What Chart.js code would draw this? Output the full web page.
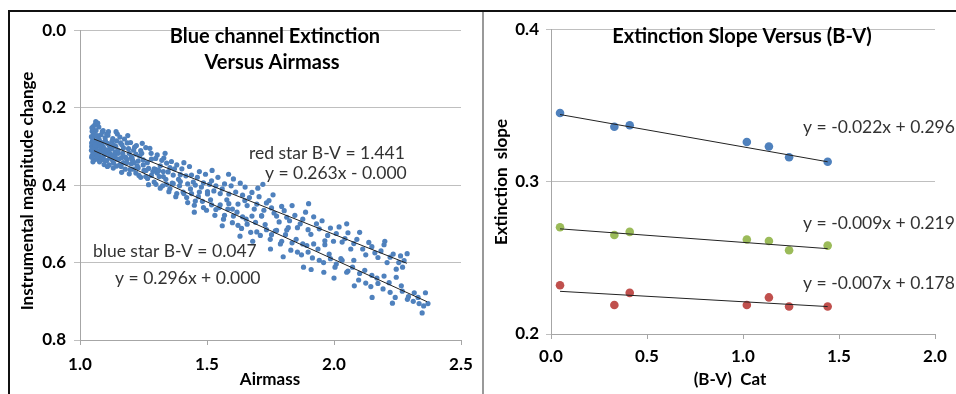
<!DOCTYPE html>
<html>
<head>
<meta charset="utf-8">
<script src="https://cdn.jsdelivr.net/npm/chart.js@4.4.1/dist/chart.umd.min.js"></script>
<style>
  body { margin: 0; width: 956px; height: 394px; background: #fff; position: relative; overflow: hidden; }
  .rule { position: absolute; }
  .wrap { position: absolute; top: 12px; height: 382px; }
</style>
</head>
<body>
<div class="rule" style="left:8px;top:10px;width:948px;height:2px;background:#111"></div>
<div class="rule" style="left:8px;top:10px;width:2px;height:384px;background:#111"></div>
<div class="rule" style="left:482px;top:12px;width:2px;height:382px;background:#999"></div>
<div class="wrap" style="left:10px;width:472px"><canvas id="airmassChart" width="472" height="382"></canvas></div>
<div class="wrap" style="left:485px;width:471px"><canvas id="slopeChart" width="471" height="382"></canvas></div>
<script>
// Left chart: magnitude change vs airmass, [airmass, magnitude]
const redStar = [
  [1.046,0.291],[1.048,0.261],[1.050,0.284],[1.052,0.249],[1.054,0.301],[1.057,0.274],[1.060,0.297],[1.063,0.259],
  [1.066,0.285],[1.069,0.311],[1.072,0.273],[1.075,0.282],[1.079,0.299],[1.083,0.270],[1.087,0.293],[1.091,0.259],
  [1.095,0.311],[1.100,0.286],[1.105,0.309],[1.110,0.271],[1.115,0.297],[1.120,0.324],[1.126,0.287],[1.132,0.297],
  [1.138,0.314],[1.144,0.286],[1.150,0.310],[1.157,0.276],[1.164,0.329],[1.171,0.304],[1.178,0.328],[1.186,0.291],
  [1.194,0.318],[1.202,0.345],[1.211,0.310],[1.220,0.320],[1.229,0.338],[1.239,0.311],[1.249,0.335],[1.259,0.303],
  [1.270,0.357],[1.281,0.333],[1.292,0.358],[1.304,0.322],[1.316,0.350],[1.328,0.378],[1.341,0.343],[1.354,0.355],
  [1.367,0.374],[1.381,0.348],[1.395,0.373],[1.409,0.342],[1.424,0.397],[1.439,0.374],[1.454,0.400],[1.470,0.365],
  [1.486,0.394],[1.502,0.423],[1.518,0.389],[1.535,0.402],[1.552,0.422],[1.569,0.397],[1.586,0.423],[1.604,0.384],
  [1.622,0.449],[1.640,0.426],[1.658,0.453],[1.677,0.419],[1.696,0.449],[1.715,0.479],[1.734,0.446],[1.754,0.459],
  [1.774,0.480],[1.794,0.455],[1.814,0.483],[1.835,0.453],[1.856,0.510],[1.877,0.488],[1.898,0.515],[1.920,0.482],
  [1.942,0.513],[1.964,0.544],[1.986,0.511],[2.009,0.525],[2.032,0.547],[2.055,0.523],[2.078,0.551],[2.101,0.522],
  [2.125,0.580],[2.149,0.559],[2.173,0.587],[2.197,0.554],[2.221,0.586],[2.245,0.617],[2.262,0.583],[2.276,0.595],
  [2.288,0.577],
  [1.045,0.275],[1.047,0.252],[1.053,0.268],[1.059,0.244],[1.065,0.272],[1.074,0.250],[1.081,0.288],[1.088,0.262],
  [1.099,0.278],[1.108,0.292],[1.112,0.262],[1.129,0.280],[1.147,0.268],[1.160,0.291],[1.175,0.281],[1.199,0.290],
  [1.215,0.302],[1.245,0.292],[1.280,0.318],
  [1.105,0.268],[1.125,0.305],[1.142,0.262],[1.165,0.296],[1.188,0.272],[1.205,0.330],[1.222,0.298],[1.243,0.318],
  [1.265,0.342],[1.275,0.305],[1.298,0.331],[1.310,0.362],[1.322,0.336],[1.335,0.318],[1.347,0.366],[1.360,0.339],
  [1.372,0.358],[1.388,0.385],[1.401,0.358],[1.417,0.376],[1.431,0.352],[1.446,0.392],[1.462,0.380],[1.478,0.405],
  [1.494,0.372],[1.510,0.398],[1.527,0.415],[1.543,0.380],[1.560,0.410],[1.578,0.438],[1.595,0.402],[1.613,0.418],
  [1.631,0.395],[1.649,0.440],[1.667,0.432],[1.686,0.462],[1.705,0.430],[1.724,0.465],[1.744,0.440],[1.764,0.472],
  [1.784,0.495],[1.804,0.466],[1.825,0.492],[1.846,0.478],[1.867,0.500],[1.888,0.470],[1.909,0.527],[1.931,0.500],
  [1.953,0.492],[1.975,0.530],[1.998,0.545],[2.020,0.508],[2.043,0.538],[2.066,0.565],[2.090,0.540],[2.113,0.565],
  [2.137,0.548],[2.161,0.575],[2.185,0.570],[2.209,0.600],[2.233,0.578],[2.255,0.600],[2.270,0.612],
  [1.520,0.362],[1.585,0.372],[1.650,0.405],[1.700,0.408],[1.760,0.425],[1.900,0.448],[2.050,0.500],[1.062,0.236],
  [1.070,0.240],[1.600,0.462],[1.820,0.510],[2.200,0.545],[1.720,0.398]
];
const blueStar = [
  [1.046,0.300],[1.048,0.323],[1.050,0.288],[1.052,0.316],[1.054,0.335],[1.057,0.308],[1.060,0.323],[1.063,0.297],
  [1.066,0.333],[1.069,0.288],[1.072,0.318],[1.075,0.326],[1.079,0.310],[1.083,0.333],[1.087,0.299],[1.091,0.328],
  [1.095,0.347],[1.100,0.321],[1.105,0.337],[1.110,0.311],[1.115,0.348],[1.120,0.303],[1.126,0.334],[1.132,0.343],
  [1.138,0.328],[1.144,0.351],[1.150,0.318],[1.157,0.347],[1.164,0.367],[1.171,0.342],[1.178,0.359],[1.186,0.334],
  [1.194,0.371],[1.202,0.328],[1.211,0.359],[1.220,0.369],[1.229,0.355],[1.239,0.380],[1.249,0.348],[1.259,0.378],
  [1.270,0.399],[1.281,0.375],[1.292,0.392],[1.304,0.369],[1.316,0.408],[1.328,0.365],[1.341,0.398],[1.354,0.409],
  [1.367,0.396],[1.381,0.422],[1.395,0.391],[1.409,0.422],[1.424,0.445],[1.439,0.422],[1.454,0.441],[1.470,0.418],
  [1.486,0.458],[1.502,0.417],[1.518,0.451],[1.535,0.463],[1.552,0.451],[1.569,0.478],[1.586,0.448],[1.604,0.480],
  [1.622,0.504],[1.640,0.482],[1.658,0.501],[1.677,0.480],[1.696,0.521],[1.715,0.480],[1.734,0.515],[1.754,0.528],
  [1.774,0.517],[1.794,0.545],[1.814,0.516],[1.835,0.549],[1.856,0.573],[1.877,0.552],[1.898,0.573],[1.920,0.552],
  [1.942,0.594],[1.964,0.554],[1.986,0.590],[2.009,0.604],[2.032,0.594],[2.055,0.622],[2.078,0.594],[2.101,0.628],
  [2.125,0.653],[2.149,0.633],[2.173,0.654],[2.197,0.635],[2.221,0.677],[2.245,0.638],[2.269,0.674],[2.293,0.688],
  [2.316,0.678],[2.335,0.706],[2.347,0.730],[2.360,0.678],[2.370,0.706],
  [1.045,0.310],[1.046,0.328],[1.049,0.298],[1.051,0.340],[1.056,0.318],[1.062,0.305],[1.068,0.325],[1.071,0.296],
  [1.077,0.340],[1.084,0.314],[1.092,0.302],[1.096,0.336],[1.103,0.318],[1.117,0.330],[1.123,0.305],[1.135,0.322],
  [1.141,0.300],[1.153,0.333],[1.168,0.318],[1.183,0.343],[1.191,0.306],[1.207,0.336],[1.225,0.350],[1.235,0.325],
  [1.260,0.362],[1.300,0.360],[1.330,0.330],
  [1.108,0.352],[1.118,0.318],[1.131,0.356],[1.146,0.333],[1.162,0.352],[1.180,0.329],[1.197,0.360],[1.213,0.342],
  [1.232,0.375],[1.252,0.362],[1.266,0.383],[1.287,0.365],[1.299,0.398],[1.312,0.378],[1.325,0.402],[1.338,0.385],
  [1.350,0.417],[1.363,0.395],[1.377,0.430],[1.392,0.402],[1.406,0.418],[1.420,0.432],[1.435,0.410],[1.450,0.452],
  [1.466,0.430],[1.482,0.442],[1.498,0.465],[1.514,0.438],[1.531,0.478],[1.548,0.458],[1.565,0.488],[1.582,0.462],
  [1.600,0.497],[1.618,0.470],[1.636,0.512],[1.654,0.488],[1.672,0.522],[1.691,0.496],[1.710,0.530],[1.729,0.502],
  [1.749,0.540],[1.769,0.518],[1.789,0.552],[1.809,0.528],[1.830,0.568],[1.851,0.540],[1.872,0.580],[1.893,0.556],
  [1.915,0.588],[1.937,0.565],[1.959,0.600],[1.981,0.578],[2.004,0.612],[2.027,0.590],[2.050,0.625],[2.073,0.612],
  [2.097,0.645],[2.121,0.620],[2.145,0.662],[2.169,0.640],[2.193,0.668],[2.217,0.652],[2.241,0.690],[2.265,0.660],
  [2.289,0.695],[2.312,0.700],[2.331,0.690],[2.353,0.712],
  [1.560,0.505],[1.680,0.545],[1.750,0.565],[1.880,0.612],[1.910,0.618],[2.000,0.640],[2.150,0.690],[1.450,0.470],
  [1.630,0.532],[2.080,0.660],[2.230,0.705],[1.800,0.585],[1.960,0.625]
];
// trend lines, end points
const redFitX = [1.055, 2.287];
const redFitY = [0.281, 0.602];
const blueFitX = [1.055, 2.366];
const blueFitY = [0.311, 0.701];

// Right chart: extinction slope vs catalogue B-V
const bvCat = [0.047, 0.33, 0.41, 1.02, 1.135, 1.24, 1.441];
const blueSlope = [0.345, 0.336, 0.337, 0.326, 0.323, 0.316, 0.313];
const greenSlope = [0.270, 0.265, 0.267, 0.262, 0.261, 0.255, 0.258];
const redSlope = [0.232, 0.219, 0.227, 0.219, 0.224, 0.218, 0.218];
const slopeFitX = [0.047, 1.441];
const blueSlopeFit = [0.344, 0.313];
const greenSlopeFit = [0.269, 0.256];
const redSlopeFit = [0.228, 0.218];

const FONT = "Lato, 'Liberation Sans', sans-serif";
const dotBlue = "#4F81BD", dotGreen = "#9BBB59", dotRed = "#C0504D";
const gridGrey = "#bfbfbf", axisGrey = "#a6a6a6";
const noteFont = "17.5px " + FONT, noteColor = "#333";

function pts(pairs) { return pairs.map(p => ({ x: p[0], y: p[1] })); }
function zip(xs, ys) { return xs.map((x, i) => ({ x: x, y: ys[i] })); }
function fitLine(xs, ys) {
  return { data: zip(xs, ys), showLine: true, pointRadius: 0, borderColor: "#222", borderWidth: 1, order: 0 };
}

// text drawn on the canvas: titles, axis titles, equations
const notes = {
  id: "notes",
  afterDatasetsDraw(chart, args, opts) {
    const ctx = chart.ctx;
    (opts.items || []).forEach(t => {
      ctx.save();
      ctx.font = t.font;
      ctx.fillStyle = t.color || "#000";
      ctx.textAlign = t.align || "center";
      ctx.textBaseline = "middle";
      let x = t.x, y = t.y;
      if (t.data) {
        x = chart.scales.x.getPixelForValue(t.x);
        y = chart.scales.y.getPixelForValue(t.y);
      }
      ctx.translate(x, y);
      if (t.rotate) ctx.rotate(-Math.PI / 2);
      ctx.fillText(t.text, 0, 0);
      ctx.restore();
    });
  }
};

function tickFont() { return { family: FONT, size: 17, weight: "bold" }; }

new Chart(document.getElementById("airmassChart"), {
  type: "scatter",
  plugins: [notes],
  data: {
    datasets: [
      fitLine(redFitX, redFitY),
      fitLine(blueFitX, blueFitY),
      { data: pts(redStar), backgroundColor: dotBlue, borderWidth: 0, pointRadius: 2.6, order: 1 },
      { data: pts(blueStar), backgroundColor: dotBlue, borderWidth: 0, pointRadius: 2.6, order: 1 }
    ]
  },
  options: {
    responsive: false,
    animation: false,
    layout: { padding: { top: 12, right: 21, left: 0, bottom: 0 } },
    plugins: {
      legend: { display: false },
      tooltip: { enabled: false },
      notes: {
        items: [
          { text: "Blue channel Extinction", x: 265, y: 25, font: "bold 20px " + FONT },
          { text: "Versus Airmass", x: 262, y: 51, font: "bold 20px " + FONT },
          { text: "Airmass", x: 260, y: 368, font: "bold 17px " + FONT },
          { text: "Instrumental magnitude change", x: 18, y: 179, rotate: true, font: "bold 17px " + FONT },
          { text: "red star B-V = 1.441", data: true, x: 1.665, y: 0.319, align: "left", color: noteColor, font: noteFont },
          { text: "y = 0.263x - 0.000", data: true, x: 1.728, y: 0.370, align: "left", color: noteColor, font: noteFont },
          { text: "blue star B-V = 0.047", data: true, x: 1.051, y: 0.570, align: "left", color: noteColor, font: noteFont },
          { text: "y = 0.296x + 0.000", data: true, x: 1.138, y: 0.640, align: "left", color: noteColor, font: noteFont }
        ]
      }
    },
    scales: {
      x: {
        type: "linear", min: 1.0, max: 2.5,
        afterFit: s => { s.height = 54; },
        ticks: { stepSize: 0.5, color: "#000", font: tickFont(), padding: 9, callback: v => v.toFixed(1) },
        grid: { drawOnChartArea: false, color: axisGrey, tickLength: 5 },
        border: { color: axisGrey }
      },
      y: {
        reverse: true, min: 0, max: 0.8,
        afterFit: s => { s.width = 70; },
        ticks: { stepSize: 0.2, color: "#000", font: tickFont(), padding: 8, callback: v => v.toFixed(1) },
        grid: { color: gridGrey, tickLength: 6 },
        border: { color: axisGrey }
      }
    }
  }
});

new Chart(document.getElementById("slopeChart"), {
  type: "scatter",
  plugins: [notes],
  data: {
    datasets: [
      fitLine(slopeFitX, blueSlopeFit),
      fitLine(slopeFitX, greenSlopeFit),
      fitLine(slopeFitX, redSlopeFit),
      { data: zip(bvCat, blueSlope), backgroundColor: dotBlue, borderWidth: 0, pointRadius: 4.3, order: 1 },
      { data: zip(bvCat, greenSlope), backgroundColor: dotGreen, borderWidth: 0, pointRadius: 4.3, order: 1 },
      { data: zip(bvCat, redSlope), backgroundColor: dotRed, borderWidth: 0, pointRadius: 4.3, order: 1 }
    ]
  },
  options: {
    responsive: false,
    animation: false,
    layout: { padding: { top: 12, right: 21, left: 0, bottom: 0 } },
    plugins: {
      legend: { display: false },
      tooltip: { enabled: false },
      notes: {
        items: [
          { text: "Extinction Slope Versus (B-V)", x: 257, y: 25, font: "bold 20px " + FONT },
          { text: "(B-V)  Cat", x: 245, y: 368, font: "bold 17px " + FONT },
          { text: "Extinction  slope", x: 17, y: 170, rotate: true, font: "bold 17px " + FONT },
          { text: "y = -0.022x + 0.296", data: true, x: 1.3125, y: 0.3355, align: "left", color: noteColor, font: noteFont },
          { text: "y = -0.009x + 0.219", data: true, x: 1.3125, y: 0.2723, align: "left", color: noteColor, font: noteFont },
          { text: "y = -0.007x + 0.178", data: true, x: 1.3125, y: 0.2335, align: "left", color: noteColor, font: noteFont }
        ]
      }
    },
    scales: {
      x: {
        type: "linear", min: 0, max: 2.0,
        afterFit: s => { s.height = 60; },
        ticks: { stepSize: 0.5, color: "#000", font: tickFont(), padding: 7, callback: v => v.toFixed(1) },
        grid: { drawOnChartArea: false, color: axisGrey, tickLength: 5 },
        border: { color: axisGrey }
      },
      y: {
        min: 0.2, max: 0.4,
        afterFit: s => { s.width = 66; },
        ticks: { stepSize: 0.1, color: "#000", font: tickFont(), padding: 7, callback: v => v.toFixed(1) },
        grid: { color: gridGrey, tickLength: 5 },
        border: { color: axisGrey }
      }
    }
  }
});
</script>
</body>
</html>
